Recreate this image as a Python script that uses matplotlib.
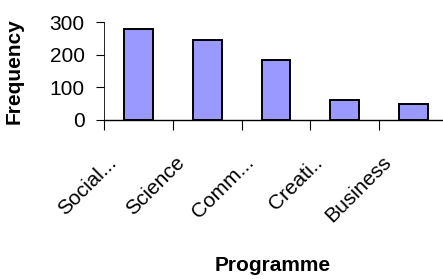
import numpy as np
import matplotlib
matplotlib.use('Agg')
import matplotlib.pyplot as plt
import matplotlib.transforms as mtrans
from matplotlib.ticker import FixedLocator, NullFormatter

# programme names as shown (already truncated in the original)
programmes = ['Social...', 'Science', 'Comm...', 'Creati..', 'Business']
frequency = [280, 245, 183, 61, 49]
yticks = [0, 100, 200, 300]

plt.rcParams['font.family'] = ['Liberation Sans', 'DejaVu Sans']

fig = plt.figure(figsize=(4.43, 2.79), dpi=100)
ax = fig.add_axes([104/443, 0.570, 344/443, 0.350])

x = np.arange(len(programmes))
ax.bar(x, frequency, width=0.42, color='#9999FF', edgecolor='black', linewidth=1.4)

ax.set_xlim(-0.5, len(programmes) - 0.5)
ax.set_ylim(0, 300)
ax.set_yticks(yticks)
ax.tick_params(axis='y', labelsize=15, length=6, width=0.8, pad=8)

# labels at bar centres, tick marks at category boundaries
ax.set_xticks(x)
ax.set_xticklabels(programmes, rotation=45, ha='right', va='center',
                   rotation_mode='anchor', fontsize=15)
ax.tick_params(axis='x', which='major', length=0, pad=28.5)
ax.xaxis.set_minor_locator(FixedLocator(np.arange(-0.5, len(programmes), 1.0)))
ax.xaxis.set_minor_formatter(NullFormatter())
ax.tick_params(axis='x', which='minor', length=7, width=0.8)
shift = mtrans.ScaledTranslation(-25/100, 0, fig.dpi_scale_trans)
for lab in ax.get_xticklabels():
    lab.set_transform(lab.get_transform() + shift)

ax.spines['top'].set_visible(False)
ax.spines['right'].set_visible(False)
ax.spines['left'].set_linewidth(0.6)
ax.spines['bottom'].set_linewidth(1.0)

ax.set_ylabel('Frequency', fontsize=15, fontweight='bold')
ax.yaxis.set_label_coords(-0.233, 0.5)
ax.set_xlabel('Programme', fontsize=15, fontweight='bold')
ax.xaxis.set_label_coords(0.49, -1.49)
ax.xaxis.label.set_va('center')

fig.savefig('out.png', dpi=100)
